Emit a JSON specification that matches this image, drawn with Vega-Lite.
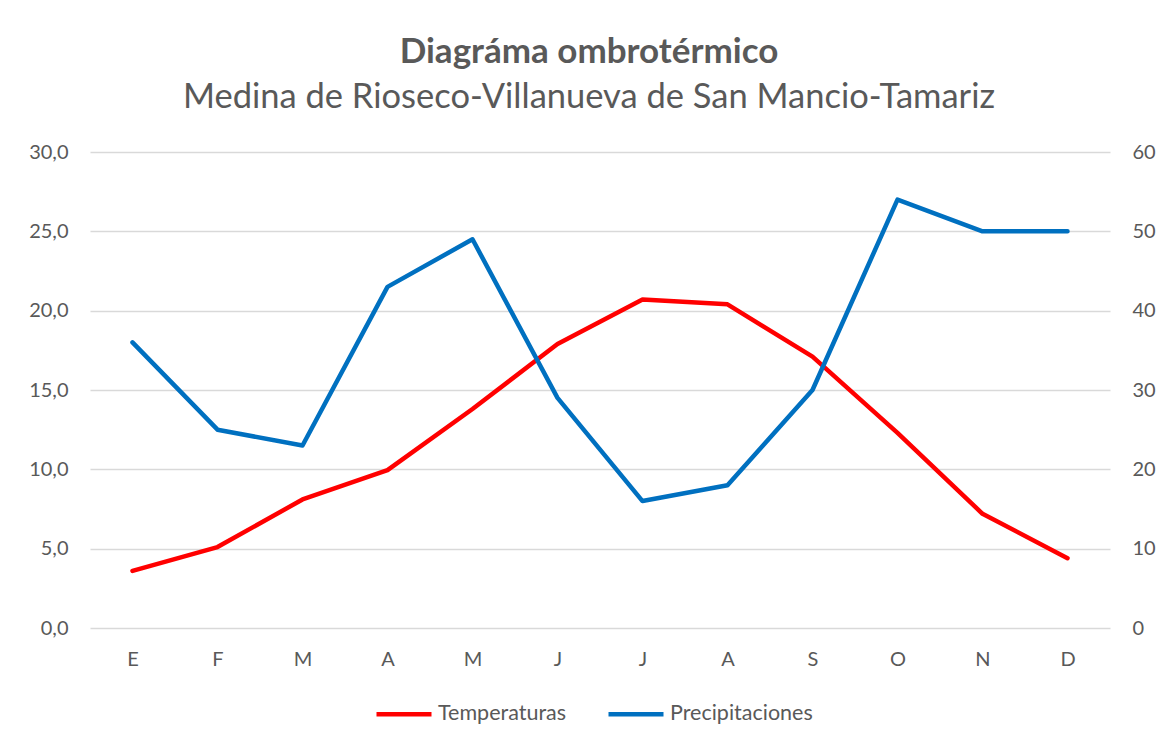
{
  "$schema": "https://vega.github.io/schema/vega-lite/v6.json",
  "width": 1020,
  "height": 476,
  "autosize": {"type": "none"},
  "padding": {"left": 90, "top": 152, "right": 59, "bottom": 116},
  "background": "white",
  "title": {
    "text": "Diagráma ombrotérmico",
    "subtitle": "Medina de Rioseco-Villanueva de San Mancio-Tamariz",
    "anchor": "middle",
    "dx": -11,
    "font": "Lato",
    "fontSize": 35,
    "fontWeight": "bold",
    "color": "#595959",
    "subtitleFont": "Lato",
    "subtitleFontSize": 34.5,
    "subtitleColor": "#595959",
    "subtitlePadding": 11,
    "offset": 28
  },
  "data": {
    "values": [
      {"mes": "Enero", "temp": 3.6, "prec": 36},
      {"mes": "Febrero", "temp": 5.1, "prec": 25},
      {"mes": "Marzo", "temp": 8.1, "prec": 23},
      {"mes": "Abril", "temp": 9.95, "prec": 43},
      {"mes": "Mayo", "temp": 13.8, "prec": 49},
      {"mes": "Junio", "temp": 17.9, "prec": 29},
      {"mes": "Julio", "temp": 20.7, "prec": 16},
      {"mes": "Agosto", "temp": 20.4, "prec": 18},
      {"mes": "Septiembre", "temp": 17.1, "prec": 30},
      {"mes": "Octubre", "temp": 12.3, "prec": 54},
      {"mes": "Noviembre", "temp": 7.2, "prec": 50},
      {"mes": "Diciembre", "temp": 4.4, "prec": 50}
    ]
  },
  "encoding": {
    "x": {
      "field": "mes",
      "type": "ordinal",
      "sort": ["Enero","Febrero","Marzo","Abril","Mayo","Junio","Julio","Agosto","Septiembre","Octubre","Noviembre","Diciembre"],
      "scale": {"type": "point", "padding": 0.5},
      "axis": {
        "title": null,
        "labelExpr": "slice(datum.value, 0, 1)",
        "labelAngle": 0,
        "ticks": false,
        "domain": false,
        "grid": false,
        "labelPadding": 21
      }
    }
  },
  "layer": [
    {
      "mark": {"type": "line", "strokeWidth": 4.5, "strokeCap": "round", "strokeJoin": "round"},
      "encoding": {
        "y": {
          "field": "temp",
          "type": "quantitative",
          "scale": {"domain": [0, 30], "nice": false},
          "axis": {
            "title": null,
            "orient": "left",
            "values": [0, 5, 10, 15, 20, 25, 30],
            "labelExpr": "replace(format(datum.value, '.1f'), '.', ',')",
            "ticks": false,
            "domain": false,
            "grid": true,
            "labelPadding": 22
          }
        },
        "color": {"datum": "Temperaturas"}
      }
    },
    {
      "mark": {"type": "line", "strokeWidth": 4.5, "strokeCap": "round", "strokeJoin": "round"},
      "encoding": {
        "y": {
          "field": "prec",
          "type": "quantitative",
          "scale": {"domain": [0, 60], "nice": false},
          "axis": {
            "title": null,
            "orient": "right",
            "values": [0, 10, 20, 30, 40, 50, 60],
            "ticks": false,
            "domain": false,
            "grid": false,
            "labelPadding": 22
          }
        },
        "color": {"datum": "Precipitaciones"}
      }
    }
  ],
  "resolve": {"scale": {"y": "independent"}},
  "config": {
    "view": {"stroke": null},
    "range": {"category": ["#FF0000", "#0070C0"]},
    "axis": {
      "labelFont": "Lato",
      "labelFontSize": 20,
      "labelColor": "#595959",
      "gridColor": "#d9d9d9",
      "gridWidth": 1.5
    },
    "legend": {
      "orient": "none",
      "legendX": 284,
      "legendY": 532,
      "direction": "horizontal",
      "title": null,
      "symbolType": "stroke",
      "symbolSize": 3025,
      "symbolStrokeWidth": 4.5,
      "labelFont": "Lato",
      "labelFontSize": 21.5,
      "labelColor": "#595959",
      "labelOffset": 4,
      "columnPadding": 32
    }
  }
}
